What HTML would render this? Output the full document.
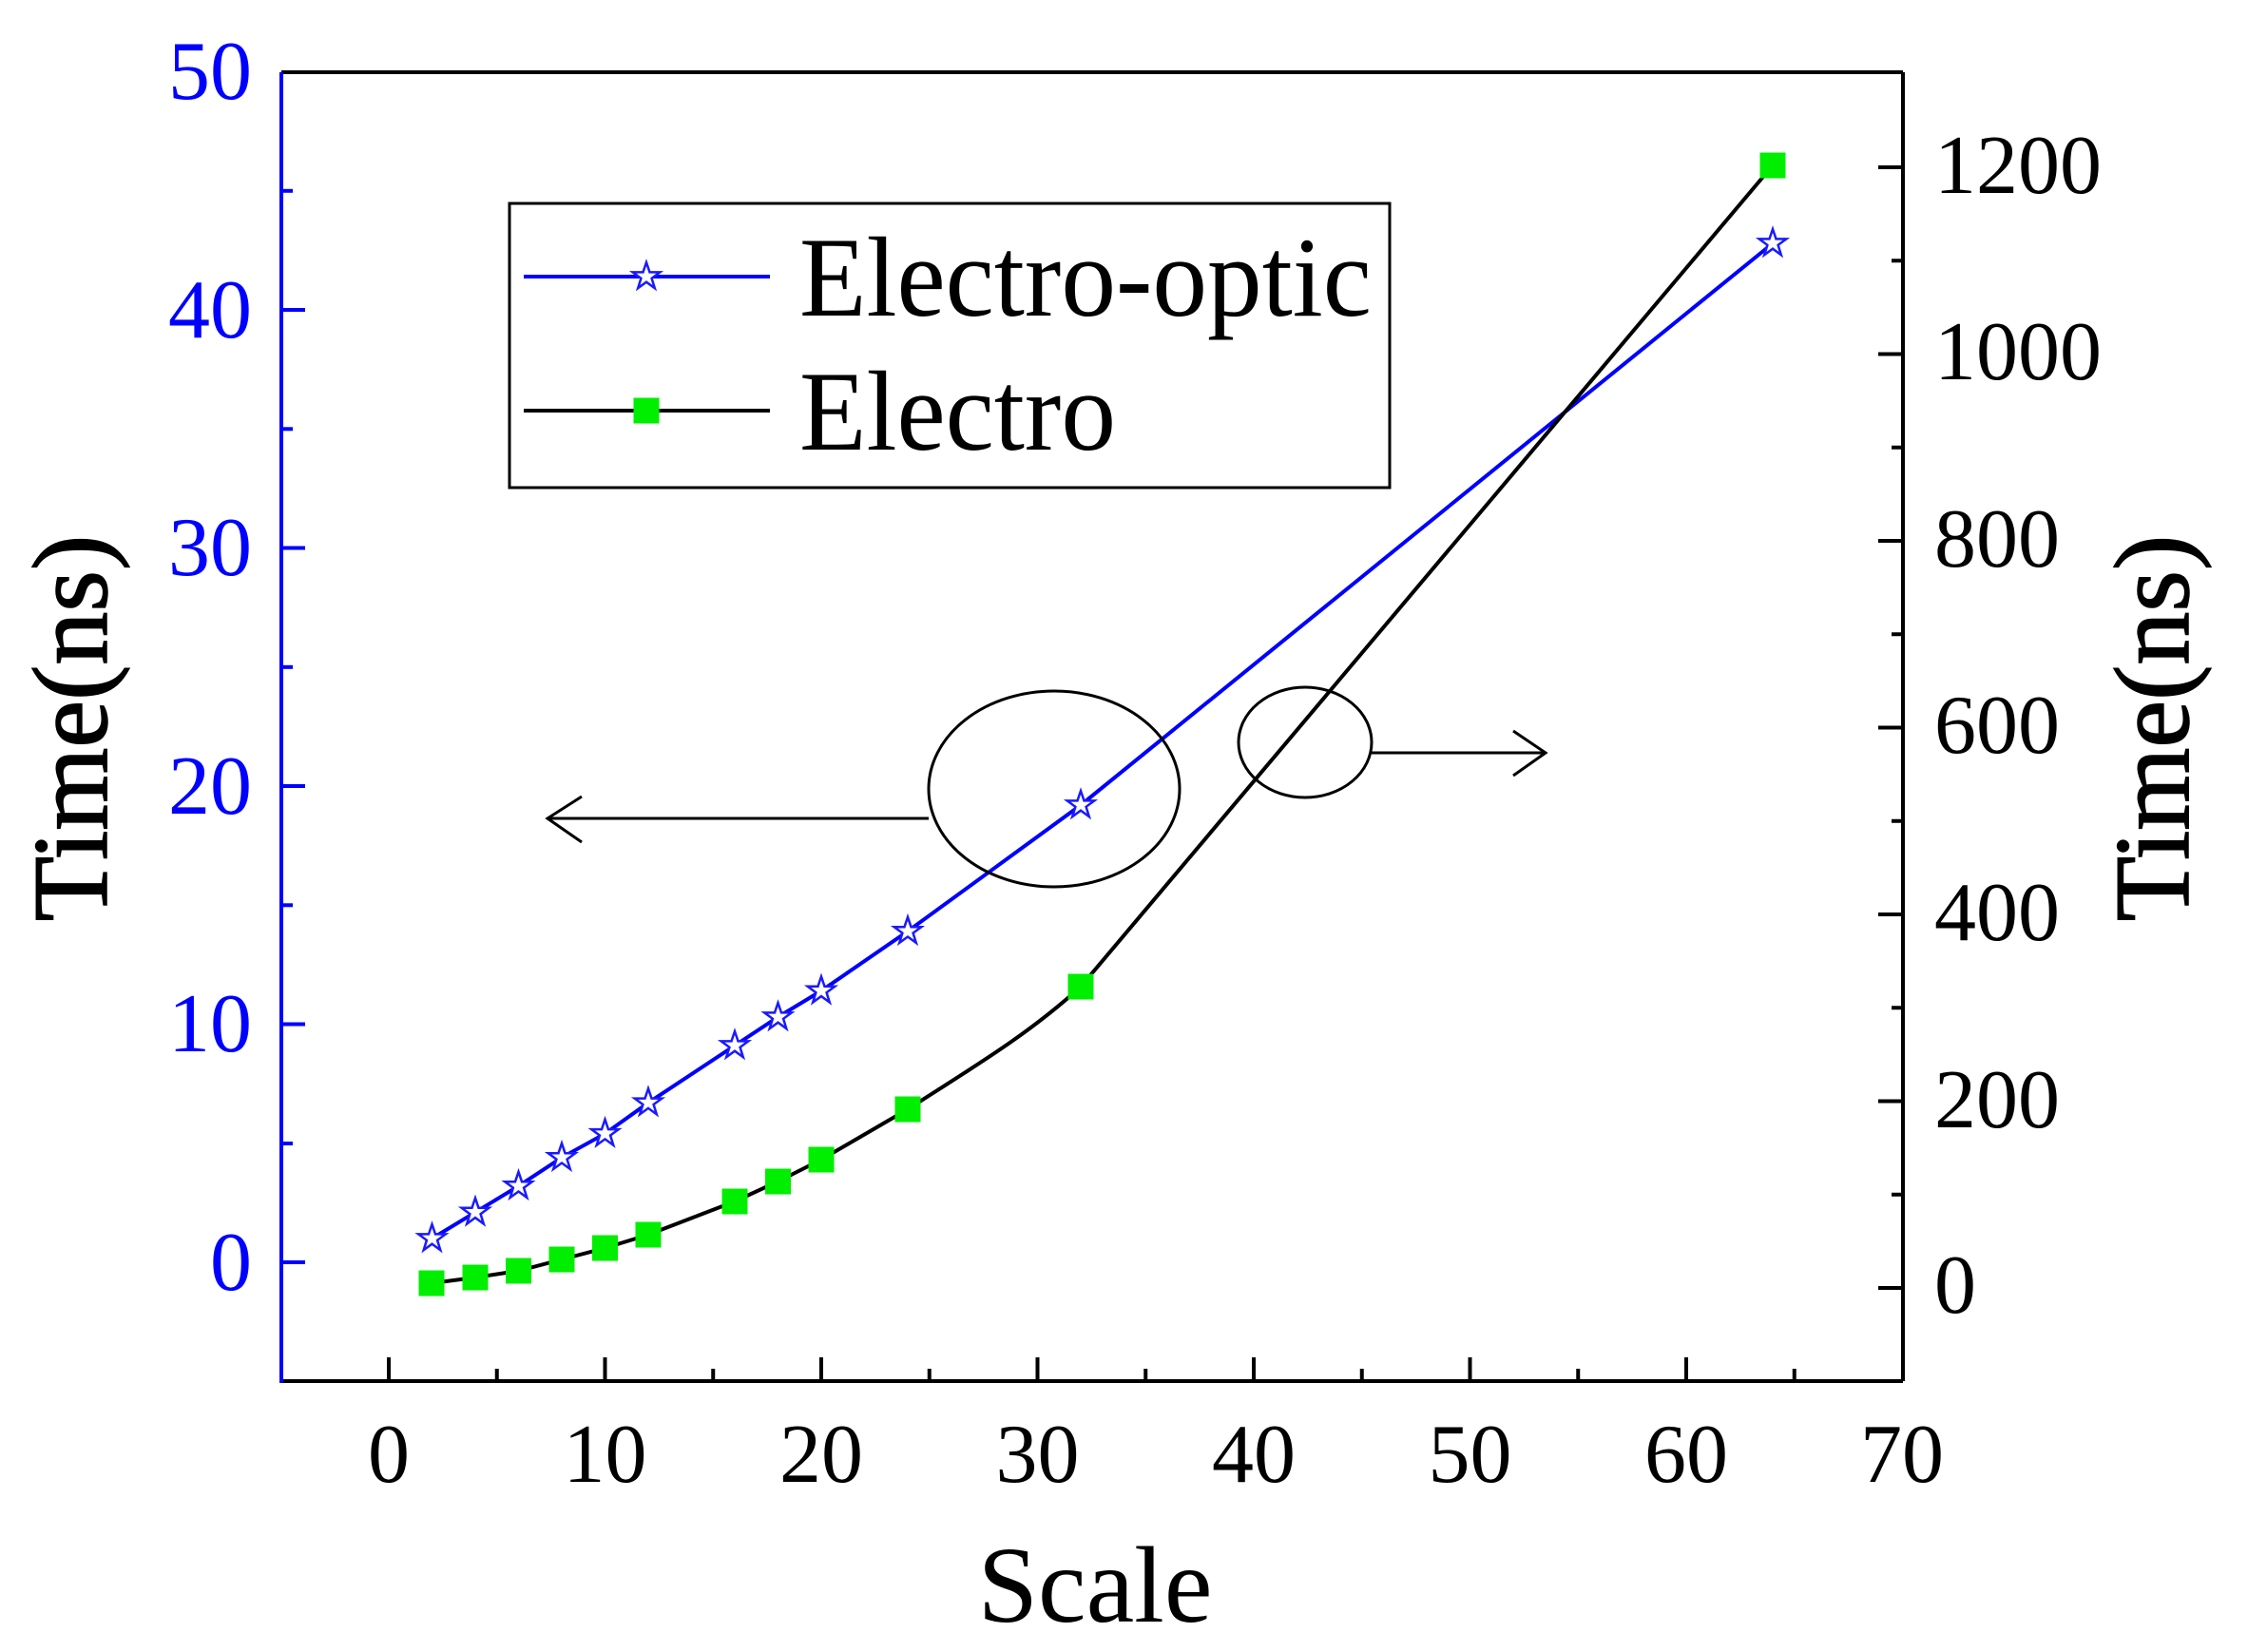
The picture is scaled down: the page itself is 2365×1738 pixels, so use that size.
<!DOCTYPE html>
<html><head><meta charset="utf-8"><style>html,body{margin:0;padding:0;background:#fff}svg{display:block}</style></head>
<body>
<svg width="2365" height="1738" viewBox="0 0 2365 1738" xmlns="http://www.w3.org/2000/svg" font-family="Liberation Serif, serif">
<defs>
<path id="st" d="M0,-15 L3.5,-4.6 L14.3,-4.6 L5.6,1.8 L8.8,12.1 L0,5.7 L-8.8,12.1 L-5.6,1.8 L-14.3,-4.6 L-3.5,-4.6 Z" fill="#fff" stroke="#1a1aff" stroke-width="2.5"/>
<rect id="sq" x="-13.5" y="-13.5" width="27" height="27" fill="#00ee00"/>
</defs>
<line x1="296" y1="76" x2="2002" y2="76" stroke="#000" stroke-width="4"/>
<line x1="2002" y1="76" x2="2002" y2="1453" stroke="#000" stroke-width="4"/>
<line x1="296" y1="1453" x2="2002" y2="1453" stroke="#000" stroke-width="4"/>
<line x1="296" y1="76" x2="296" y2="1455" stroke="#0000ff" stroke-width="4"/>
<g stroke="#0000ff" stroke-width="4">
<line x1="296" x2="321" y1="1328" y2="1328"/><line x1="296" x2="308" y1="1203" y2="1203"/>
<line x1="296" x2="321" y1="1077.5" y2="1077.5"/><line x1="296" x2="308" y1="952.3" y2="952.3"/>
<line x1="296" x2="321" y1="827" y2="827"/><line x1="296" x2="308" y1="701.8" y2="701.8"/>
<line x1="296" x2="321" y1="576.5" y2="576.5"/><line x1="296" x2="308" y1="451.3" y2="451.3"/>
<line x1="296" x2="321" y1="326" y2="326"/><line x1="296" x2="308" y1="200.8" y2="200.8"/>
</g>
<g fill="#0000ff" font-size="88" text-anchor="end">
<text x="265" y="1357">0</text><text x="265" y="1106">10</text><text x="265" y="856">20</text>
<text x="265" y="605">30</text><text x="265" y="355">40</text><text x="265" y="104">50</text>
</g>
<g stroke="#000" stroke-width="4">
<line x1="2002" x2="1976" y1="1355" y2="1355"/><line x1="2002" x2="1990" y1="1256.75" y2="1256.75"/>
<line x1="2002" x2="1976" y1="1158.5" y2="1158.5"/><line x1="2002" x2="1990" y1="1060.25" y2="1060.25"/>
<line x1="2002" x2="1976" y1="962" y2="962"/><line x1="2002" x2="1990" y1="863.75" y2="863.75"/>
<line x1="2002" x2="1976" y1="765.5" y2="765.5"/><line x1="2002" x2="1990" y1="667.25" y2="667.25"/>
<line x1="2002" x2="1976" y1="569" y2="569"/><line x1="2002" x2="1990" y1="470.75" y2="470.75"/>
<line x1="2002" x2="1976" y1="372.5" y2="372.5"/><line x1="2002" x2="1990" y1="274.25" y2="274.25"/>
<line x1="2002" x2="1976" y1="176" y2="176"/><line x1="2002" x2="1990" y1="1453" y2="1453"/>
</g>
<g fill="#000" font-size="88">
<text x="2035" y="1381">0</text><text x="2035" y="1186">200</text><text x="2035" y="989">400</text>
<text x="2035" y="792">600</text><text x="2035" y="596">800</text><text x="2035" y="399">1000</text><text x="2035" y="203">1200</text>
</g>
<g stroke="#000" stroke-width="4">
<line x1="409" x2="409" y1="1453" y2="1428"/><line x1="522.75" x2="522.75" y1="1453" y2="1440"/>
<line x1="636.5" x2="636.5" y1="1453" y2="1428"/><line x1="750.25" x2="750.25" y1="1453" y2="1440"/>
<line x1="864" x2="864" y1="1453" y2="1428"/><line x1="977.75" x2="977.75" y1="1453" y2="1440"/>
<line x1="1091.5" x2="1091.5" y1="1453" y2="1428"/><line x1="1205.25" x2="1205.25" y1="1453" y2="1440"/>
<line x1="1319" x2="1319" y1="1453" y2="1428"/><line x1="1432.75" x2="1432.75" y1="1453" y2="1440"/>
<line x1="1546.5" x2="1546.5" y1="1453" y2="1428"/><line x1="1660.25" x2="1660.25" y1="1453" y2="1440"/>
<line x1="1774" x2="1774" y1="1453" y2="1428"/><line x1="1887.75" x2="1887.75" y1="1453" y2="1440"/>
</g>
<g fill="#000" font-size="88" text-anchor="middle">
<text x="409" y="1559">0</text><text x="636.5" y="1559">10</text><text x="864" y="1559">20</text>
<text x="1091.5" y="1559">30</text><text x="1319" y="1559">40</text><text x="1546.5" y="1559">50</text>
<text x="1774" y="1559">60</text><text x="2001" y="1559">70</text>
</g>
<text x="1152" y="1706" font-size="114" text-anchor="middle">Scale</text>
<text transform="translate(112,766) rotate(-90)" font-size="112" text-anchor="middle" stroke="#000" stroke-width="1.5">Time(ns)</text>
<text transform="translate(2302,766) rotate(-90)" font-size="112" text-anchor="middle" stroke="#000" stroke-width="1.5">Time(ns)</text>
<polyline fill="none" stroke="#0000ff" stroke-width="4" points="454.5,1303 500,1275.4 545.5,1247.8 591,1217.8 636.5,1192.7 682,1160.2 773,1100 818.5,1070 864,1042.4 955,979.8 1137,847 1865,256"/>
<path fill="none" stroke="#000" stroke-width="4" d="M454,1350 L500,1344 L545.5,1337 L591,1325 L636.5,1313 L682,1299 L773,1264 L818.5,1243 L864,1220 L955,1167 C1020,1125 1080,1090 1137,1038 L1865,174"/>
<g>
<use href="#st" x="454.5" y="1303"/><use href="#st" x="500" y="1275.4"/><use href="#st" x="545.5" y="1247.8"/>
<use href="#st" x="591" y="1217.8"/><use href="#st" x="636.5" y="1192.7"/><use href="#st" x="682" y="1160.2"/>
<use href="#st" x="773" y="1100"/><use href="#st" x="818.5" y="1070"/><use href="#st" x="864" y="1042.4"/>
<use href="#st" x="955" y="979.8"/><use href="#st" x="1137" y="847"/><use href="#st" x="1865" y="256"/>
</g>
<g>
<use href="#sq" x="454" y="1350"/><use href="#sq" x="500" y="1344"/><use href="#sq" x="545.5" y="1337"/>
<use href="#sq" x="591" y="1325"/><use href="#sq" x="636.5" y="1313"/><use href="#sq" x="682" y="1299"/>
<use href="#sq" x="773" y="1264"/><use href="#sq" x="818.5" y="1243"/><use href="#sq" x="864" y="1220"/>
<use href="#sq" x="955" y="1167"/><use href="#sq" x="1137" y="1038"/><use href="#sq" x="1865" y="174"/>
</g>
<g fill="none" stroke="#000" stroke-width="3">
<ellipse cx="1109" cy="830" rx="132" ry="103"/>
<line x1="977" y1="861" x2="576" y2="861"/>
<polyline points="612,838 576,861 612,886"/>
<ellipse cx="1373" cy="781" rx="70" ry="58"/>
<line x1="1443" y1="792" x2="1626" y2="792"/>
<polyline points="1592,769 1626,792 1592,816"/>
</g>
<rect x="536" y="214" width="926" height="299" fill="#fff" stroke="#000" stroke-width="3"/>
<line x1="551" y1="291" x2="810" y2="291" stroke="#0000ff" stroke-width="4"/>
<use href="#st" x="680" y="291"/>
<line x1="551" y1="432" x2="810" y2="432" stroke="#000" stroke-width="4"/>
<use href="#sq" x="680" y="432"/>
<text x="841" y="332" font-size="120" textLength="602" lengthAdjust="spacingAndGlyphs">Electro-optic</text>
<text x="841" y="473" font-size="120" textLength="333" lengthAdjust="spacingAndGlyphs">Electro</text>
</svg>
</body></html>
